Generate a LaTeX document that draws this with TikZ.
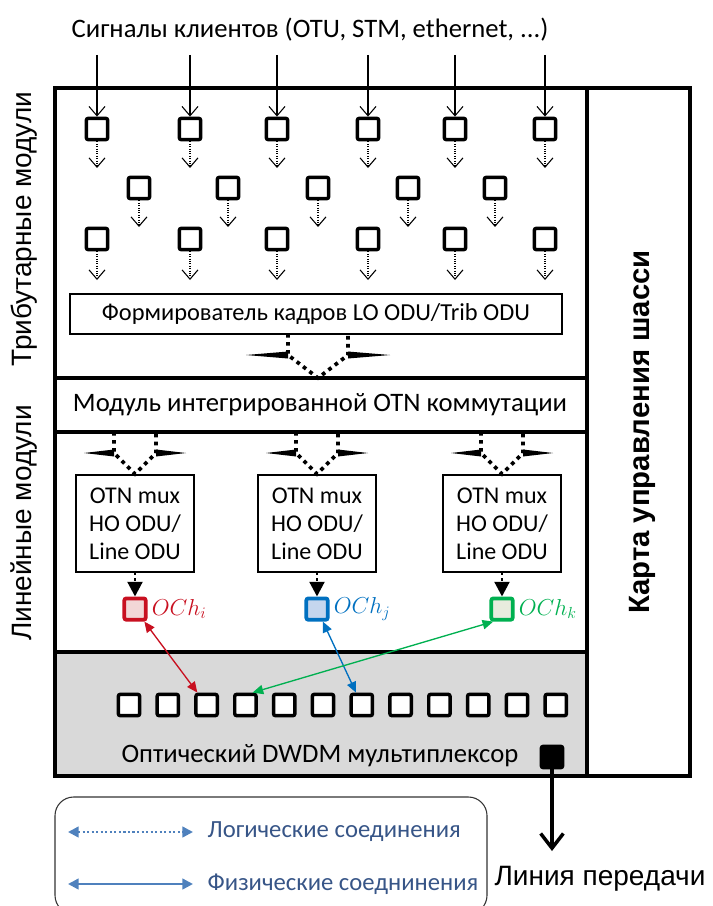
\documentclass[tikz,border=0pt]{standalone}
\usepackage{fontspec}
\setmainfont{Carlito}
\newfontfamily\arialfont{Liberation Sans}
\usetikzlibrary{arrows.meta, positioning}

\definecolor{ochred}{RGB}{200,16,32}
\definecolor{ochredfill}{RGB}{242,215,215}
\definecolor{ochblue}{RGB}{0,112,192}
\definecolor{ochbluefill}{RGB}{197,214,238}
\definecolor{ochgreen}{RGB}{0,176,80}
\definecolor{ochgreenfill}{RGB}{232,236,222}
\definecolor{legblue}{RGB}{79,129,189}
\definecolor{legtext}{RGB}{55,85,135}
\definecolor{muxgray}{RGB}{217,217,217}

\begin{document}
\begin{tikzpicture}[
  x=0.75pt, y=-0.75pt,
  frame/.style={line width=2.5pt},
  port/.style={rectangle, rounded corners=1.5pt, draw=black, line width=2.6pt,
               minimum size=16pt, inner sep=0pt, fill=white},
  ochport/.style={port, line width=2.8pt},
  infobox/.style={rectangle, draw=black, line width=0.8pt, inner sep=2pt},
  otnbox/.style={infobox, minimum width=88.5pt, minimum height=72.75pt,
                 align=center, font=\fontsize{18}{21}\selectfont},
  inarr/.style={-{Straight Barb[length=7pt,width=12pt]}, line width=0.8pt},
  dotarr/.style={inarr, densely dotted},
  dotline/.style={line width=2.8pt, dash pattern=on 2.8pt off 3.2pt},
  blkarr/.style={-{Triangle[length=11pt,width=11pt]}, line width=2.2pt,
                 dash pattern=on 2.2pt off 2pt},
  phys/.style={{Triangle[length=8pt,width=7pt]}-{Triangle[length=8pt,width=7pt]},
               line width=1pt},
  outarr/.style={-{Straight Barb[length=11pt,width=17pt]}, line width=2.6pt},
  legarr/.style={{Triangle[length=8pt,width=8pt]}-{Triangle[length=8pt,width=8pt]},
                 line width=1.8pt, draw=legblue},
  legtxt/.style={anchor=west, text=legtext, font=\fontsize{18.5}{20}\selectfont}
]
\useasboundingbox (0,0) rectangle (713,906);

% chassis frame
\fill[muxgray] (55,652) rectangle (587,776);
\draw[frame] (55,88) rectangle (587,776);
\draw[frame] (587,88) rectangle (690,776);
\draw[frame] (55,378) -- (587,378);
\draw[frame] (55,432) -- (587,432);
\draw[frame] (55,652) -- (587,652);

\node[font=\fontsize{20}{22}\selectfont] (title) at (310,30)
  {Сигналы клиентов (OTU, STM, ethernet, ...)};
\node[rotate=90, font=\arialfont\fontsize{21}{24}\selectfont] (triblbl) at (24,229)
  {Трибутарные модули};
\node[rotate=90, font=\arialfont\fontsize{21}{24}\selectfont] (linelbl) at (24,523)
  {Линейные модули};
\node[rotate=90, font=\arialfont\bfseries\fontsize{22}{24}\selectfont] (ctrl) at (642,432)
  {Карта управления шасси};

% tributary ports
\foreach \x [count=\i] in {97,190,277,368,455,545} {
  \coordinate (in\i) at (\x,55);
  \node[port] (a\i) at (\x,129) {};
  \node[port] (c\i) at (\x,239) {};
  \coordinate (ae\i) at (\x,168);
  \coordinate (ce\i) at (\x,280);
  \draw[inarr] (in\i) -- (a\i);
  \draw[dotarr] (a\i) -- (ae\i);
  \draw[dotarr] (c\i) -- (ce\i);
}
\foreach \x [count=\i] in {139,228,318,408,495} {
  \node[port] (b\i) at (\x,188) {};
  \coordinate (be\i) at (\x,227);
  \draw[dotarr] (b\i) -- (be\i);
}

\node[infobox, minimum width=369pt, minimum height=30pt,
      font=\fontsize{18.3}{20}\selectfont] (frm) at (316,314)
  {Формирователь кадров LO ODU/Trib ODU};
\node[font=\fontsize{20}{22}\selectfont] (switch) at (320,405)
  {Модуль интегрированной OTN коммутации};

% dotted block arrows
\foreach \cx/\yt/\yw/\yp/\s/\w in {318/334/355/378/30/72, 135/432/453/474/21/51,
                                   317/432/453/474/21/51, 502/432/453/474/21/51} {
  \draw[dotline] (\cx-\s,\yt) -- (\cx-\s,\yw) -- (\cx,\yp) -- (\cx+\s,\yw) -- (\cx+\s,\yt);
  \fill (\cx-\s,\yw-3.5) -- (\cx-\w,\yw) -- (\cx-\s,\yw+3.5) -- cycle;
  \fill (\cx+\s,\yw-3.5) -- (\cx+\w,\yw) -- (\cx+\s,\yw+3.5) -- cycle;
}

% line modules
\foreach \x [count=\i] in {135,317,502}
  \node[otnbox] (otn\i) at (\x,523.5) {OTN mux\\HO ODU/\\Line ODU};

\node[ochport, draw=ochred, fill=ochredfill, below=18pt of otn1] (och1) {};
\node[ochport, draw=ochblue, fill=ochbluefill, below=18pt of otn2] (och2) {};
\node[ochport, draw=ochgreen, fill=ochgreenfill, below=18pt of otn3] (och3) {};
\node[right=2pt of och1, inner sep=1pt, text=ochred, font=\fontsize{18}{20}\selectfont] (och1lbl) {$OCh_i$};
\node[right=2pt of och2, inner sep=1pt, text=ochblue, font=\fontsize{18}{20}\selectfont] (och2lbl) {$OCh_j$};
\node[right=2pt of och3, inner sep=1pt, text=ochgreen, font=\fontsize{18}{20}\selectfont] (och3lbl) {$OCh_k$};

\foreach \i in {1,2,3}
  \draw[blkarr] (otn\i) -- (och\i);

% DWDM multiplexer
\foreach \i in {1,...,12}
  \node[port] (m\i) at ({129+38.8*(\i-1)},705) {};
\node[font=\fontsize{20}{22}\selectfont] (muxlbl) at (320,756)
  {Оптический DWDM мультиплексор};
\node[port, fill=black] (out) at (552,757) {};

\draw[phys, ochred] (och1) -- (m3);
\draw[phys, ochblue] (och2) -- (m7);
\draw[phys, ochgreen] (m4.60) -- (och3.235);

\coordinate (lineend) at (552,851);
\draw[outarr] (out) -- (lineend);
\node[font=\arialfont\fontsize{21}{24}\selectfont] (linetxt) at (600,879)
  {Линия передачи};

% legend
\draw[rounded corners=14pt, line width=0.8pt, draw=black!80] (55,797) rectangle (487,914);
\coordinate (l1a) at (68,832);
\coordinate (l1b) at (193,832);
\coordinate (l2a) at (68,884);
\coordinate (l2b) at (193,884);
\draw[legarr, dash pattern=on 1.6pt off 1.8pt] (l1a) -- (l1b);
\draw[legarr] (l2a) -- (l2b);
\node[legtxt] (l1txt) at (203,832) {Логические соединения};
\node[legtxt] (l2txt) at (203,884) {Физические соеднинения};
\end{tikzpicture}
\end{document}
